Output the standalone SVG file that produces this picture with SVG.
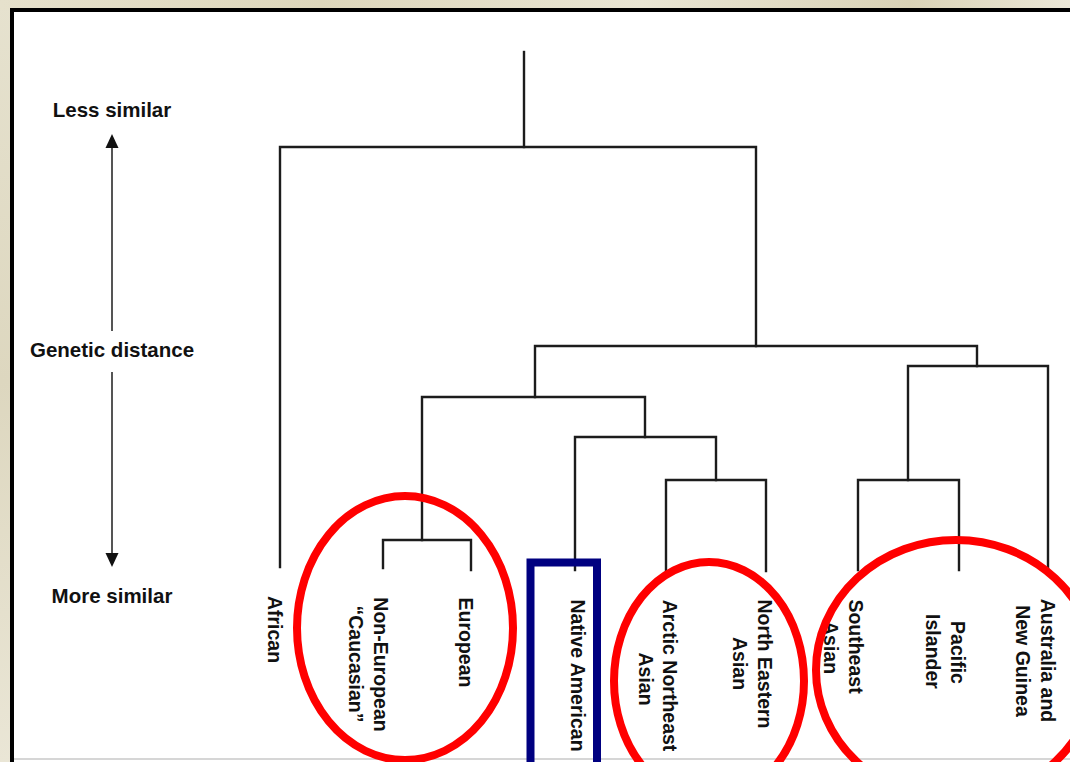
<svg xmlns="http://www.w3.org/2000/svg" width="1070" height="762" viewBox="0 0 1070 762">
  <defs>
    <linearGradient id="bgTop" x1="0" y1="0" x2="1" y2="0">
      <stop offset="0" stop-color="#e6e1cc"/>
      <stop offset="0.3" stop-color="#ddd6bb"/>
      <stop offset="0.6" stop-color="#e9e5d3"/>
      <stop offset="0.85" stop-color="#d9d2b6"/>
      <stop offset="1" stop-color="#ece8d8"/>
    </linearGradient>
    <linearGradient id="bgLeft" x1="0" y1="0" x2="0" y2="1">
      <stop offset="0" stop-color="#e6e2cf"/>
      <stop offset="0.5" stop-color="#ddd7bf"/>
      <stop offset="1" stop-color="#eae6d6"/>
    </linearGradient>
  </defs>
  <style>
    .tree { fill: none; stroke: #1c1c1c; stroke-width: 2.4; stroke-linecap: square; }
    .axis { stroke: #1c1c1c; stroke-width: 1.5; }
    .head { fill: #111; }
    .lbl { font-family: "Liberation Sans", Arial, sans-serif; font-weight: bold; font-size: 19.5px; fill: #111; text-anchor: middle; }
    .ax { font-family: "Liberation Sans", Arial, sans-serif; font-weight: bold; font-size: 20.5px; fill: #111; text-anchor: middle; }
    .red { fill: none; stroke: #ff0000; stroke-width: 8; }
    .blue { fill: none; stroke: #000080; stroke-width: 8; }
  </style>

  <!-- background and frame -->
  <rect x="0" y="0" width="1070" height="762" fill="url(#bgLeft)"/>
  <rect x="0" y="0" width="1070" height="10" fill="url(#bgTop)"/>
  <rect x="12" y="10" width="1070" height="760" fill="#ffffff" stroke="#000000" stroke-width="4"/>
  <line x1="14" y1="759" x2="1070" y2="759" stroke="#c8c8c8" stroke-width="1.5"/>

  <!-- axis -->
  <g id="axis">
    <text class="ax" x="112" y="117">Less similar</text>
    <line class="axis" x1="112" y1="146" x2="112" y2="331"/>
    <polygon class="head" points="112,134 105.5,148 118.5,148"/>
    <text class="ax" x="112" y="357">Genetic distance</text>
    <line class="axis" x1="112" y1="372" x2="112" y2="555"/>
    <polygon class="head" points="112,567 105.5,553 118.5,553"/>
    <text class="ax" x="112" y="603">More similar</text>
  </g>

  <!-- connectors (dendrogram) -->
  <g id="connectors" class="tree">
    <path d="M524,52 V147"/>
    <path d="M280,567 V147 H756 V346"/>
    <path d="M535,397 V346 H977 V366"/>
    <path d="M908,480 V366 H1048 V570"/>
    <path d="M858,570 V480 H959 V570"/>
    <path d="M422,540 V397 H645 V437"/>
    <path d="M383,568 V540 H471 V570"/>
    <path d="M575,570 V437 H716 V480"/>
    <path d="M666,571 V480 H766 V571"/>
  </g>

  <!-- leaf nodes -->
  <g id="node-african">
    <text class="lbl" transform="translate(268,629.5) rotate(90)">African</text>
  </g>
  <g id="node-non-european">
    <text class="lbl" transform="translate(374,664.5) rotate(90)">Non-European</text>
    <text class="lbl" transform="translate(349,664) rotate(90)">“Caucasian”</text>
  </g>
  <g id="node-european">
    <text class="lbl" transform="translate(459,642.5) rotate(90)">European</text>
  </g>
  <g id="node-native-american">
    <text class="lbl" transform="translate(571,675.5) rotate(90)">Native American</text>
  </g>
  <g id="node-arctic-northeast-asian">
    <text class="lbl" transform="translate(663,675.5) rotate(90)">Arctic Northeast</text>
    <text class="lbl" transform="translate(639,679) rotate(90)">Asian</text>
  </g>
  <g id="node-north-eastern-asian">
    <text class="lbl" transform="translate(758,664) rotate(90)">North Eastern</text>
    <text class="lbl" transform="translate(733,663.5) rotate(90)">Asian</text>
  </g>
  <g id="node-southeast-asian">
    <text class="lbl" transform="translate(849,646.5) rotate(90)">Southeast</text>
    <text class="lbl" transform="translate(824,647.5) rotate(90)">Asian</text>
  </g>
  <g id="node-pacific-islander">
    <text class="lbl" transform="translate(951,652.5) rotate(90)">Pacific</text>
    <text class="lbl" transform="translate(926,651.5) rotate(90)">Islander</text>
  </g>
  <g id="node-australia-new-guinea">
    <text class="lbl" transform="translate(1041,660.5) rotate(90)">Australia and</text>
    <text class="lbl" transform="translate(1016,661) rotate(90)">New Guinea</text>
  </g>

  <!-- highlight annotations -->
  <g id="highlights">
    <ellipse class="red" cx="405" cy="628" rx="108" ry="132"/>
    <ellipse class="red" cx="709" cy="681" rx="95" ry="119"/>
    <ellipse class="red" cx="956" cy="670" rx="140" ry="130"/>
    <rect class="blue" x="530.5" y="562.5" width="66.5" height="220"/>
  </g>
</svg>
